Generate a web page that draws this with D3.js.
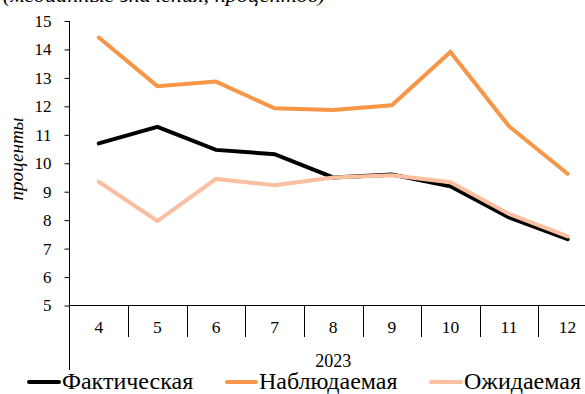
<!DOCTYPE html>
<html><head><meta charset="utf-8">
<script src="https://cdn.jsdelivr.net/npm/d3@7"></script>
<style>
html,body{margin:0;padding:0;background:#fff;}
</style></head>
<body><svg id="c" width="585" height="394"></svg>
<script>
const months = ["4","5","6","7","8","9","10","11","12"];
const yearLabel = "2023";
const fact = [10.70, 11.28, 10.47, 10.32, 9.50, 9.60, 9.19, 8.10, 7.33];
const observed = [14.42, 12.71, 12.87, 11.93, 11.87, 12.04, 13.91, 11.30, 9.63];
const expected = [9.35, 7.97, 9.45, 9.23, 9.50, 9.58, 9.33, 8.22, 7.43];
const yTicks = [5,6,7,8,9,10,11,12,13,14,15];
const seriesNames = ["Фактическая","Наблюдаемая","Ожидаемая"];
const colors = ["#000000","#F79646","#F9BFA0"];
const titleText = "(медианные значения, процентов)";
const yLabel = "проценты";

(function(){
const FONT = "Liberation Serif, DejaVu Serif";
const svg = d3.select("#c");
const pLeft = 69.5, pBottom = 305.5, pTop = 21;
const band = 58.6;
const x = d3.scaleBand().domain(months).range([pLeft, pLeft + band*months.length]).padding(0);
const y = d3.scaleLinear().domain([5,15]).range([pBottom, pTop]);

function txt(sel){ return sel.attr("font-family", FONT).style("font-family", FONT); }

// title (cut off at top, as in the source)
txt(svg.append("text").attr("x",3).attr("y",1.5).style("font-style","italic").style("font-size","19px")
  .attr("textLength",322).attr("lengthAdjust","spacingAndGlyphs").text(titleText));

// y axis
const ya = svg.append("g").attr("transform",`translate(${pLeft},0)`)
  .call(d3.axisLeft(y).tickValues(yTicks).tickSize(5).tickSizeOuter(0).tickPadding(13));
txt(ya);
ya.select(".domain").remove();
ya.selectAll("line").attr("stroke","#000");
txt(ya.selectAll("text")).style("font-size","17px").attr("fill","#000");
svg.append("line").attr("x1",pLeft).attr("x2",pLeft).attr("y1",pTop).attr("y2",370).attr("stroke","#000");

// x axis
svg.append("line").attr("x1",pLeft).attr("x2",585).attr("y1",pBottom).attr("y2",pBottom).attr("stroke","#000");
const xa = svg.append("g").attr("transform",`translate(0,${pBottom})`)
  .call(d3.axisBottom(x).tickSize(0).tickPadding(15));
txt(xa);
xa.select(".domain").remove();
txt(xa.selectAll("text")).style("font-size","17.5px").attr("fill","#000");
svg.append("g").selectAll("line").data(months).join("line")
  .attr("x1",(d,i)=>Math.round(pLeft + band*(i+1))+0.5).attr("x2",(d,i)=>Math.round(pLeft + band*(i+1))+0.5)
  .attr("y1",pBottom).attr("y2",337).attr("stroke","#000");
txt(svg.append("text").attr("x",pLeft + band*months.length/2).attr("y",367).attr("text-anchor","middle")
  .style("font-size","18px").text(yearLabel));

// y label
txt(svg.append("text").attr("transform","translate(23,159) rotate(-90)").attr("text-anchor","middle")
  .style("font-style","italic").style("font-size","19px").text(yLabel));

// lines
const line = d3.line().x((d,i)=>x(months[i]) + x.bandwidth()/2).y(d=>y(d));
[fact, observed, expected].forEach((s,k)=>{
  svg.append("path").datum(s).attr("d",line).attr("fill","none")
    .attr("stroke",colors[k]).attr("stroke-width",4).attr("stroke-linejoin","miter").attr("stroke-linecap","round");
});

// legend
const legX = [29, 227, 431];
const legTx = [62, 259, 464];
seriesNames.forEach((n,k)=>{
  svg.append("line").attr("x1",legX[k]).attr("x2",legTx[k]-3).attr("y1",382).attr("y2",382)
    .attr("stroke",colors[k]).attr("stroke-width",4).attr("stroke-linecap","round");
  txt(svg.append("text").attr("x",legTx[k]).attr("y",389).style("font-size","24px").text(n));
});
})();
</script></body></html>
